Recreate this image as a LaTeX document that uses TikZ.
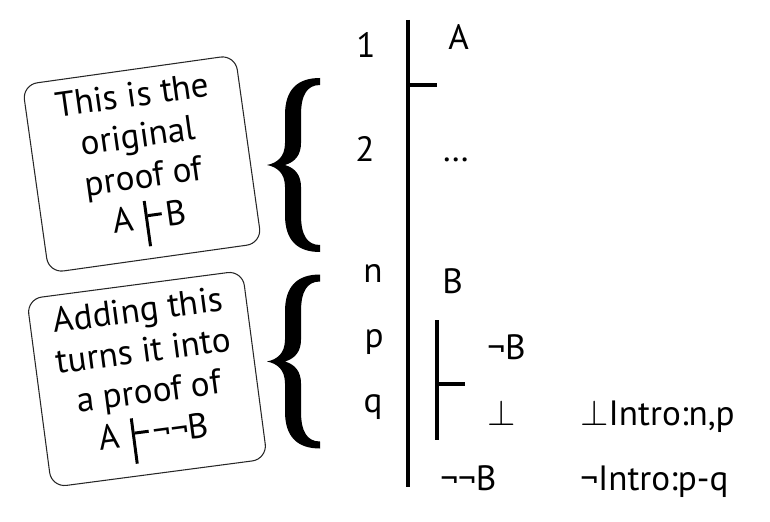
\documentclass[tikz,border=0pt]{standalone}
\usepackage{fontspec}
\setmainfont{PT Sans}
\newcommand{\tstile}{\hspace{0.35em}\rule[-0.5em]{1.7pt}{1.3em}\rule[0.33em]{0.4em}{1.7pt}\hspace{0.12em}}

\begin{document}
\begin{tikzpicture}[x=0.02cm,y=0.02cm,
		every node/.style={font=\fontsize{20}{23.3}\selectfont,inner sep=0pt},
		note/.style={draw=black!85,line width=0.6pt,rounded corners=0.3cm,align=center,minimum width=4.3cm,minimum height=3.8cm},
		num/.style={anchor=base},
		fml/.style={anchor=base west},
		bar/.style={line width=0.09cm}]
				\useasboundingbox (0,0) rectangle (770,521);

				% the two notes on the left, tilted
				\node[note,rotate=8] (orig) at (142,357) {This is the\\original\\proof of\\A\tstile B};
				\node[note,rotate=7.5,minimum width=4.35cm] (adding) at (147,142) {Adding this\\turns it into\\a proof of\\A\tstile¬¬B};

				% braces
				\foreach \yb in {356,159.5} {
					\begin{scope}[shift={(267,\yb)}]
						\fill (53,-87) .. controls (30,-87) and (18,-75) .. (18,-50) -- (18,-22) .. controls (18,-8) and (10,-2) .. (0,0)
						.. controls (10,2) and (18,8) .. (18,22) -- (18,50) .. controls (18,75) and (30,87) .. (53,87)
						-- (53,80) .. controls (40,80) and (34,70) .. (34,50) -- (34,22) .. controls (34,10) and (28,3) .. (18,0)
						.. controls (28,-3) and (34,-10) .. (34,-22) -- (34,-50) .. controls (34,-70) and (40,-80) .. (53,-80) -- cycle;
					\end{scope}
				}

				% proof lines
				\draw[bar] (408,501) -- (408,34);
				\draw[bar] (408,436) -- (437,436);
				\draw[bar] (437,201) -- (437,81);
				\draw[bar] (437,137) -- (465,137);

				% line numbers
				\node[num] (l1) at (366,463) {1};
				\node[num] (l2) at (365,359) {2};
				\node[num] (ln) at (373,239) {n};
				\node[num] (lp) at (374,174) {p};
				\node[num] (lq) at (373,109) {q};

				% formulas
				\node[fml] (fa) at (448,471) {A};
				\node[fml] (fdots) at (442,359) {…};
				\node[fml] (fb) at (442,228) {B};
				\node[fml] (fnb) at (487,162) {¬B};
				\node[fml] (fbot) at (487,96) {$\bot$};
				\node[fml] (fnnb) at (440,31) {¬¬B};

				% rules
				\node[fml] (jbot) at (580,96) {$\bot$Intro:n,p};
				\node[fml] (jneg) at (580,31) {¬Intro:p-q};
			\end{tikzpicture}
\end{document}
